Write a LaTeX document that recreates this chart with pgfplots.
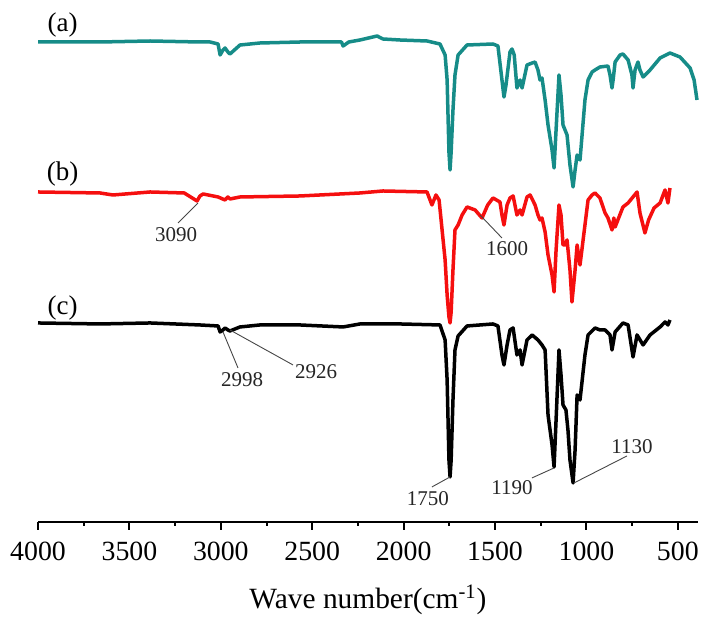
\documentclass[border=0pt]{standalone}
\usepackage{pgfplots}
\pgfplotsset{compat=1.18}
\usepackage{fontspec}
\setmainfont{Liberation Serif}
\definecolor{tealc}{RGB}{22,140,136}
\definecolor{redc}{RGB}{245,15,15}
\definecolor{annot}{RGB}{70,70,70}
\begin{document}
\begin{tikzpicture}
\begin{axis}[
  scale only axis, width=330pt, height=261pt,
  xmin=390, xmax=4000, x dir=reverse, ymin=0, ymax=522,
  axis x line=bottom, axis y line=none,
  axis line style={-, line width=1pt, black},
  ytick=\empty,
  xtick={500,1000,...,4000}, minor x tick num=1,
  tick align=outside, major tick length=4pt, minor tick length=2pt,
  every tick/.style={line width=1pt, black},
  /pgf/number format/assume math mode=true,
  /pgf/number format/set thousands separator={},
  xticklabel style={font=\fontsize{13.9}{16}\selectfont, yshift=-2.5pt},
  xlabel={Wave number(cm\textsuperscript{-1})},
  xlabel style={font=\fontsize{14.7}{17}\selectfont, yshift=-5pt},
  clip=false,
  every axis plot/.append style={line width=1.75pt, line join=round},
]
% (a)
\addplot[tealc] coordinates {
(4000,480)(3661,480)(3387,481)(3114,480)(3059,480)(3015,478)(3004,467)(2988,472)(2977,474)(2961,470)(2950,468)(2895,477)(2786,479)(2567,480)(2340,480)(2331,476)(2300,480)(2239,482)(2145,486)(2113,483)(2020,482)(1872,481)(1801,478)(1773,467)(1762,442)(1752,370)(1746,352)(1740,370)(1730,412)(1719,447)(1702,467)(1653,477)(1511,478)(1484,476)(1462,442)(1451,425)(1440,437)(1418,470)(1407,473)(1395,467)(1380,434)(1363,442)(1352,434)(1325,457)(1297,459)(1281,460)(1265,452)(1254,442)(1243,444)(1226,422)(1210,397)(1188,372)(1177,354)(1166,392)(1150,447)(1139,427)(1128,397)(1117,392)(1106,387)(1090,357)(1073,335)(1062,352)(1051,367)(1035,362)(1008,422)(991,442)(969,450)(953,452)(926,455)(882,456)(871,447)(860,434)(854,442)(843,460)(816,467)(800,468)(772,462)(751,447)(745,434)(734,452)(718,460)(707,452)(690,445)(652,452)(597,464)(543,469)(488,465)(433,454)(411,442)(395,422)
};
% (b)
\addplot[redc] coordinates {
(4000,330)(3661,329)(3590,327)(3387,330)(3200,329)(3130,321)(3114,326)(3097,328)(3015,325)(2977,322)(2961,325)(2950,323)(2895,325)(2567,326)(2239,329)(2113,331)(1872,330)(1845,317)(1823,327)(1806,322)(1773,262)(1762,227)(1752,205)(1746,199)(1740,210)(1730,252)(1719,292)(1702,297)(1680,307)(1653,315)(1609,312)(1571,304)(1540,317)(1511,324)(1473,320)(1462,307)(1451,297)(1434,317)(1418,324)(1401,326)(1380,307)(1363,312)(1352,307)(1325,325)(1308,327)(1281,317)(1265,307)(1254,302)(1243,304)(1226,290)(1210,267)(1188,247)(1177,230)(1166,272)(1150,317)(1139,307)(1128,277)(1117,277)(1106,282)(1090,252)(1079,220)(1062,252)(1051,277)(1035,257)(1008,297)(991,322)(969,327)(953,329)(926,324)(898,309)(882,304)(860,292)(850,304)(843,295)(800,315)(772,319)(723,330)(707,309)(680,289)(660,302)(630,314)(597,319)(570,332)(554,319)(543,334)
};
% (c)
\addplot[black] coordinates {
(4000,199)(3661,198)(3387,199)(3114,197)(3015,196)(3004,190)(2988,192)(2977,194)(2961,192)(2950,191)(2895,195)(2786,197)(2567,197)(2331,195)(2239,198)(2020,198)(1801,197)(1773,182)(1762,142)(1752,62)(1746,45)(1740,62)(1730,122)(1719,172)(1702,186)(1653,196)(1511,198)(1484,196)(1462,167)(1451,157)(1434,177)(1418,192)(1401,194)(1380,167)(1363,172)(1352,157)(1325,182)(1297,187)(1265,182)(1243,177)(1226,172)(1210,107)(1188,77)(1177,55)(1166,102)(1150,172)(1139,147)(1128,117)(1112,112)(1101,92)(1090,62)(1073,39)(1062,72)(1051,127)(1035,122)(1008,167)(991,187)(953,194)(926,192)(898,192)(871,187)(860,172)(843,190)(800,199)(772,197)(745,165)(723,187)(690,177)(652,187)(597,195)(570,200)(554,197)(543,202)
};
% panel labels
\node[font=\fontsize{13.5}{16}\selectfont] at (axis cs:3865,497) {(a)};
\node[font=\fontsize{13.5}{16}\selectfont] at (axis cs:3865,348) {(b)};
\node[font=\fontsize{13.5}{16}\selectfont] at (axis cs:3865,214) {(c)};
% annotations
\begin{scope}[annot, line width=0.45pt]
\draw (axis cs:3125,319) -- (axis cs:3234,299);
\draw (axis cs:1582,307) -- (axis cs:1462,284);
\draw (axis cs:2988,190) -- (axis cs:2906,154);
\draw (axis cs:2950,192) -- (axis cs:2605,157);
\draw (axis cs:1746,45) -- (axis cs:1845,35);
\draw (axis cs:1177,54) -- (axis cs:1298,44);
\draw (axis cs:1068,39) -- (axis cs:778,66);
\end{scope}
\begin{scope}[every node/.style={font=\fontsize{10.5}{12}\selectfont, text=black!85}]
\node at (axis cs:3245,287) {3090};
\node at (axis cs:1434,273) {1600};
\node at (axis cs:2884,142) {2998};
\node at (axis cs:2479,150) {2926};
\node at (axis cs:1867,23) {1750};
\node at (axis cs:1407,34) {1190};
\node at (axis cs:751,75) {1130};
\end{scope}
\path (axis cs:4208,-100) rectangle (axis cs:324,522);
\end{axis}
\end{tikzpicture}
\end{document}
